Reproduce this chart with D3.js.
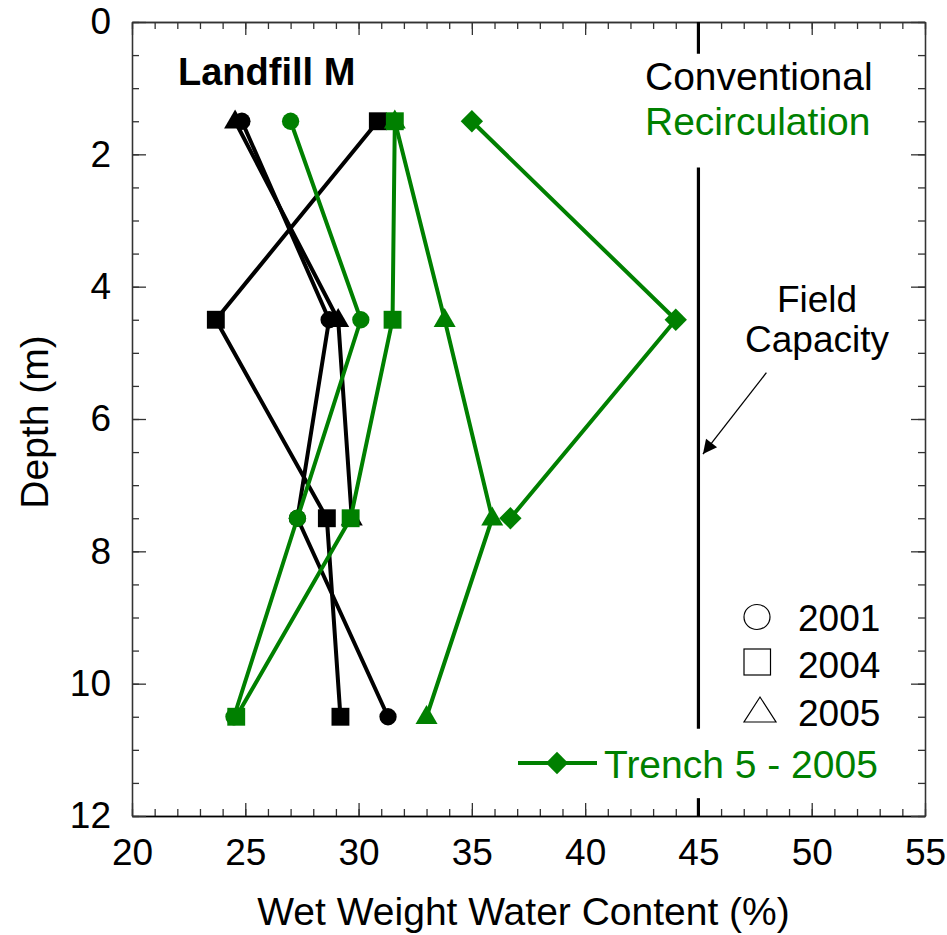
<!DOCTYPE html>
<html>
<head>
<meta charset="utf-8">
<script src="https://cdn.jsdelivr.net/npm/d3@7/dist/d3.min.js"></script>
<style>
  html, body { margin: 0; padding: 0; background: #fff; }
  svg { display: block; font-family: "Liberation Sans", Arial, sans-serif; }
</style>
</head>
<body>
<svg id="chart" width="947" height="935"></svg>
<script>
// ---------- data ----------
const depths = [1.5, 4.5, 7.5, 10.5];
const conv2001 = [24.85, 28.7, 27.3, 31.3];
const conv2004 = [30.85, 23.7, 28.6, 29.2];
const conv2005 = [24.55, 29.1, 29.7];
const rec2001 = [27.0, 30.1, 27.3, 24.5];
const rec2004 = [31.6, 31.5, 29.65, 24.6];
const rec2005 = [31.6, 33.8, 35.9, 33.0];
const trench2005 = [35.0, 44.0, 36.7];

const xTicks = [20, 25, 30, 35, 40, 45, 50, 55];
const yTicks = [0, 2, 4, 6, 8, 10, 12];
const legendYears = ["2001", "2004", "2005"];
const fieldCapacity = 45;
const fcSegments = [[0, 0.48], [2.2, 10.68], [11.73, 12]];

const BLACK = "#000000";
const GREEN = "#008000";

// ---------- scales ----------
const svg = d3.select("#chart");
const x = d3.scaleLinear().domain([20, 55]).range([132, 925]);
const y = d3.scaleLinear().domain([0, 12]).range([22, 816]);

// ---------- axes ----------
const xMinor = d3.range(20, 56, 1);
const yMinor = d3.range(0, 12.01, 0.5);
const axisColor = "#333";

function styleAxis(g) {
  g.selectAll("path.domain").attr("stroke", axisColor).attr("stroke-width", 1.3);
  g.selectAll(".tick line").attr("stroke", axisColor).attr("stroke-width", 1.3);
}

// bottom
svg.append("g").attr("transform", `translate(0,${y(12)})`)
  .call(d3.axisBottom(x).tickValues(xMinor).tickSize(-7).tickSizeOuter(0).tickFormat(""))
  .call(styleAxis);
const gxb = svg.append("g").attr("transform", `translate(0,${y(12)})`)
  .call(d3.axisBottom(x).tickValues(xTicks).tickSize(-13).tickSizeOuter(0).tickPadding(23).tickFormat(d3.format("d")))
  .call(styleAxis);
gxb.selectAll("path.domain").attr("stroke", "#000");
gxb.selectAll("text").attr("font-size", 37).attr("fill", "#000")
  .attr("font-family", "'Liberation Sans', Arial, sans-serif");

// top
svg.append("g").attr("transform", `translate(0,${y(0)})`)
  .call(d3.axisTop(x).tickValues(xMinor).tickSize(-7).tickSizeOuter(0).tickFormat(""))
  .call(styleAxis);
svg.append("g").attr("transform", `translate(0,${y(0)})`)
  .call(d3.axisTop(x).tickValues(xTicks).tickSize(-13).tickSizeOuter(0).tickFormat(""))
  .call(styleAxis);

// left
svg.append("g").attr("transform", `translate(${x(20)},0)`)
  .call(d3.axisLeft(y).tickValues(yMinor).tickSize(-7).tickSizeOuter(0).tickFormat(""))
  .call(styleAxis);
const gyl = svg.append("g").attr("transform", `translate(${x(20)},0)`)
  .call(d3.axisLeft(y).tickValues(yTicks).tickSize(-14).tickSizeOuter(0).tickPadding(21).tickFormat(d3.format("d")))
  .call(styleAxis);
gyl.selectAll("text").attr("font-size", 37).attr("fill", "#000")
  .attr("font-family", "'Liberation Sans', Arial, sans-serif");

// right
svg.append("g").attr("transform", `translate(${x(55)},0)`)
  .call(d3.axisRight(y).tickValues(yMinor).tickSize(-7).tickSizeOuter(0).tickFormat(""))
  .call(styleAxis);
svg.append("g").attr("transform", `translate(${x(55)},0)`)
  .call(d3.axisRight(y).tickValues(yTicks).tickSize(-14).tickSizeOuter(0).tickFormat(""))
  .call(styleAxis);

// axis titles
svg.append("text")
  .attr("x", (x(20) + x(55)) / 2 - 5).attr("y", 925)
  .attr("text-anchor", "middle").attr("font-size", 39).attr("fill", "#000")
  .text("Wet Weight Water Content (%)");
svg.append("text")
  .attr("transform", `translate(48,${(y(0) + y(12)) / 2 + 3}) rotate(-90)`)
  .attr("text-anchor", "middle").attr("font-size", 39).attr("fill", "#000")
  .text("Depth (m)");

// ---------- field capacity line ----------
svg.append("g").selectAll("line").data(fcSegments).join("line")
  .attr("x1", x(fieldCapacity)).attr("x2", x(fieldCapacity))
  .attr("y1", d => y(d[0])).attr("y2", d => y(d[1]))
  .attr("stroke", "#000").attr("stroke-width", 3.2);

// ---------- series ----------
const symbols = {
  circle: d3.symbol().type(d3.symbolCircle).size(235),
  square: d3.symbol().type(d3.symbolSquare).size(320),
  triangle: d3.symbol().type(d3.symbolTriangle).size(210),
  diamond: d3.symbol().type(d3.symbolSquare).size(250)
};

const series = [
  { vals: conv2001, color: BLACK, sym: "circle" },
  { vals: conv2004, color: BLACK, sym: "square" },
  { vals: conv2005, color: BLACK, sym: "triangle" },
  { vals: rec2001, color: GREEN, sym: "circle" },
  { vals: rec2005, color: GREEN, sym: "triangle" },
  { vals: rec2004, color: GREEN, sym: "square" },
  { vals: trench2005, color: GREEN, sym: "diamond" }
];

const line = d3.line().x(d => x(d.v)).y(d => y(d.d));

series.forEach(s => {
  const pts = s.vals.map((v, i) => ({ v, d: depths[i] }));
  const g = svg.append("g");
  g.append("path").datum(pts)
    .attr("d", line).attr("fill", "none")
    .attr("stroke", s.color).attr("stroke-width", 4).attr("stroke-linejoin", "round");
  g.selectAll("path.m").data(pts).join("path")
    .attr("class", "m")
    .attr("d", symbols[s.sym])
    .attr("transform", d => `translate(${x(d.v)},${y(d.d)})` + (s.sym === "diamond" ? " rotate(45)" : "") + (s.sym === "triangle" ? " translate(0,1)" : ""))
    .attr("fill", s.color);
});

// ---------- annotations ----------
svg.append("text").attr("x", 178).attr("y", 85)
  .attr("font-size", 38).attr("font-weight", "bold").attr("fill", "#000")
  .text("Landfill M");

svg.append("text").attr("x", 645).attr("y", 90)
  .attr("font-size", 39).attr("fill", BLACK)
  .text("Conventional");
svg.append("text").attr("x", 645).attr("y", 135)
  .attr("font-size", 39).attr("fill", GREEN)
  .text("Recirculation");

svg.append("text").attr("x", 817).attr("y", 312)
  .attr("text-anchor", "middle").attr("font-size", 37).attr("fill", "#000")
  .text("Field");
svg.append("text").attr("x", 817).attr("y", 352)
  .attr("text-anchor", "middle").attr("font-size", 37).attr("fill", "#000")
  .text("Capacity");

// arrow
const arrowFrom = [48.0, 5.3], arrowTo = [45.2, 6.53];
svg.append("defs").append("marker")
  .attr("id", "ah").attr("viewBox", "0 0 10 10").attr("refX", 10).attr("refY", 5)
  .attr("markerWidth", 20).attr("markerHeight", 14).attr("markerUnits", "userSpaceOnUse")
  .attr("orient", "auto")
  .append("path").attr("d", "M0,0 L10,5 L0,10 Z").attr("fill", "#000");
svg.append("line")
  .attr("x1", x(arrowFrom[0])).attr("y1", y(arrowFrom[1]))
  .attr("x2", x(arrowTo[0])).attr("y2", y(arrowTo[1]))
  .attr("stroke", "#000").attr("stroke-width", 1.3).attr("marker-end", "url(#ah)");

// ---------- legend ----------
const legSyms = ["circle", "square", "triangle"];
const legBase = [631, 678, 726];
const lg = svg.append("g");
legendYears.forEach((yr, i) => {
  let shape;
  if (legSyms[i] === "circle") {
    shape = lg.append("ellipse").attr("cx", 757).attr("cy", legBase[i] - 14).attr("rx", 13).attr("ry", 12.5);
  } else if (legSyms[i] === "square") {
    shape = lg.append("rect").attr("x", 744).attr("y", legBase[i] - 29).attr("width", 26.5).attr("height", 26);
  } else {
    shape = lg.append("path").attr("d", `M744,${legBase[i] - 4} L776,${legBase[i] - 4} L760,${legBase[i] - 29} Z`);
  }
  shape.attr("fill", "#fff").attr("stroke", "#000").attr("stroke-width", 1.2);
  lg.append("text").attr("x", 798).attr("y", legBase[i])
    .attr("font-size", 37).attr("fill", "#000").text(yr);
});
lg.append("line").attr("x1", 518).attr("x2", 597).attr("y1", 763).attr("y2", 763)
  .attr("stroke", GREEN).attr("stroke-width", 4);
lg.append("path").attr("d", symbols.diamond)
  .attr("transform", "translate(557,763) rotate(45)").attr("fill", GREEN);
lg.append("text").attr("x", 604).attr("y", 778)
  .attr("font-size", 39).attr("fill", GREEN).text("Trench 5 - 2005");
</script>
</body>
</html>
